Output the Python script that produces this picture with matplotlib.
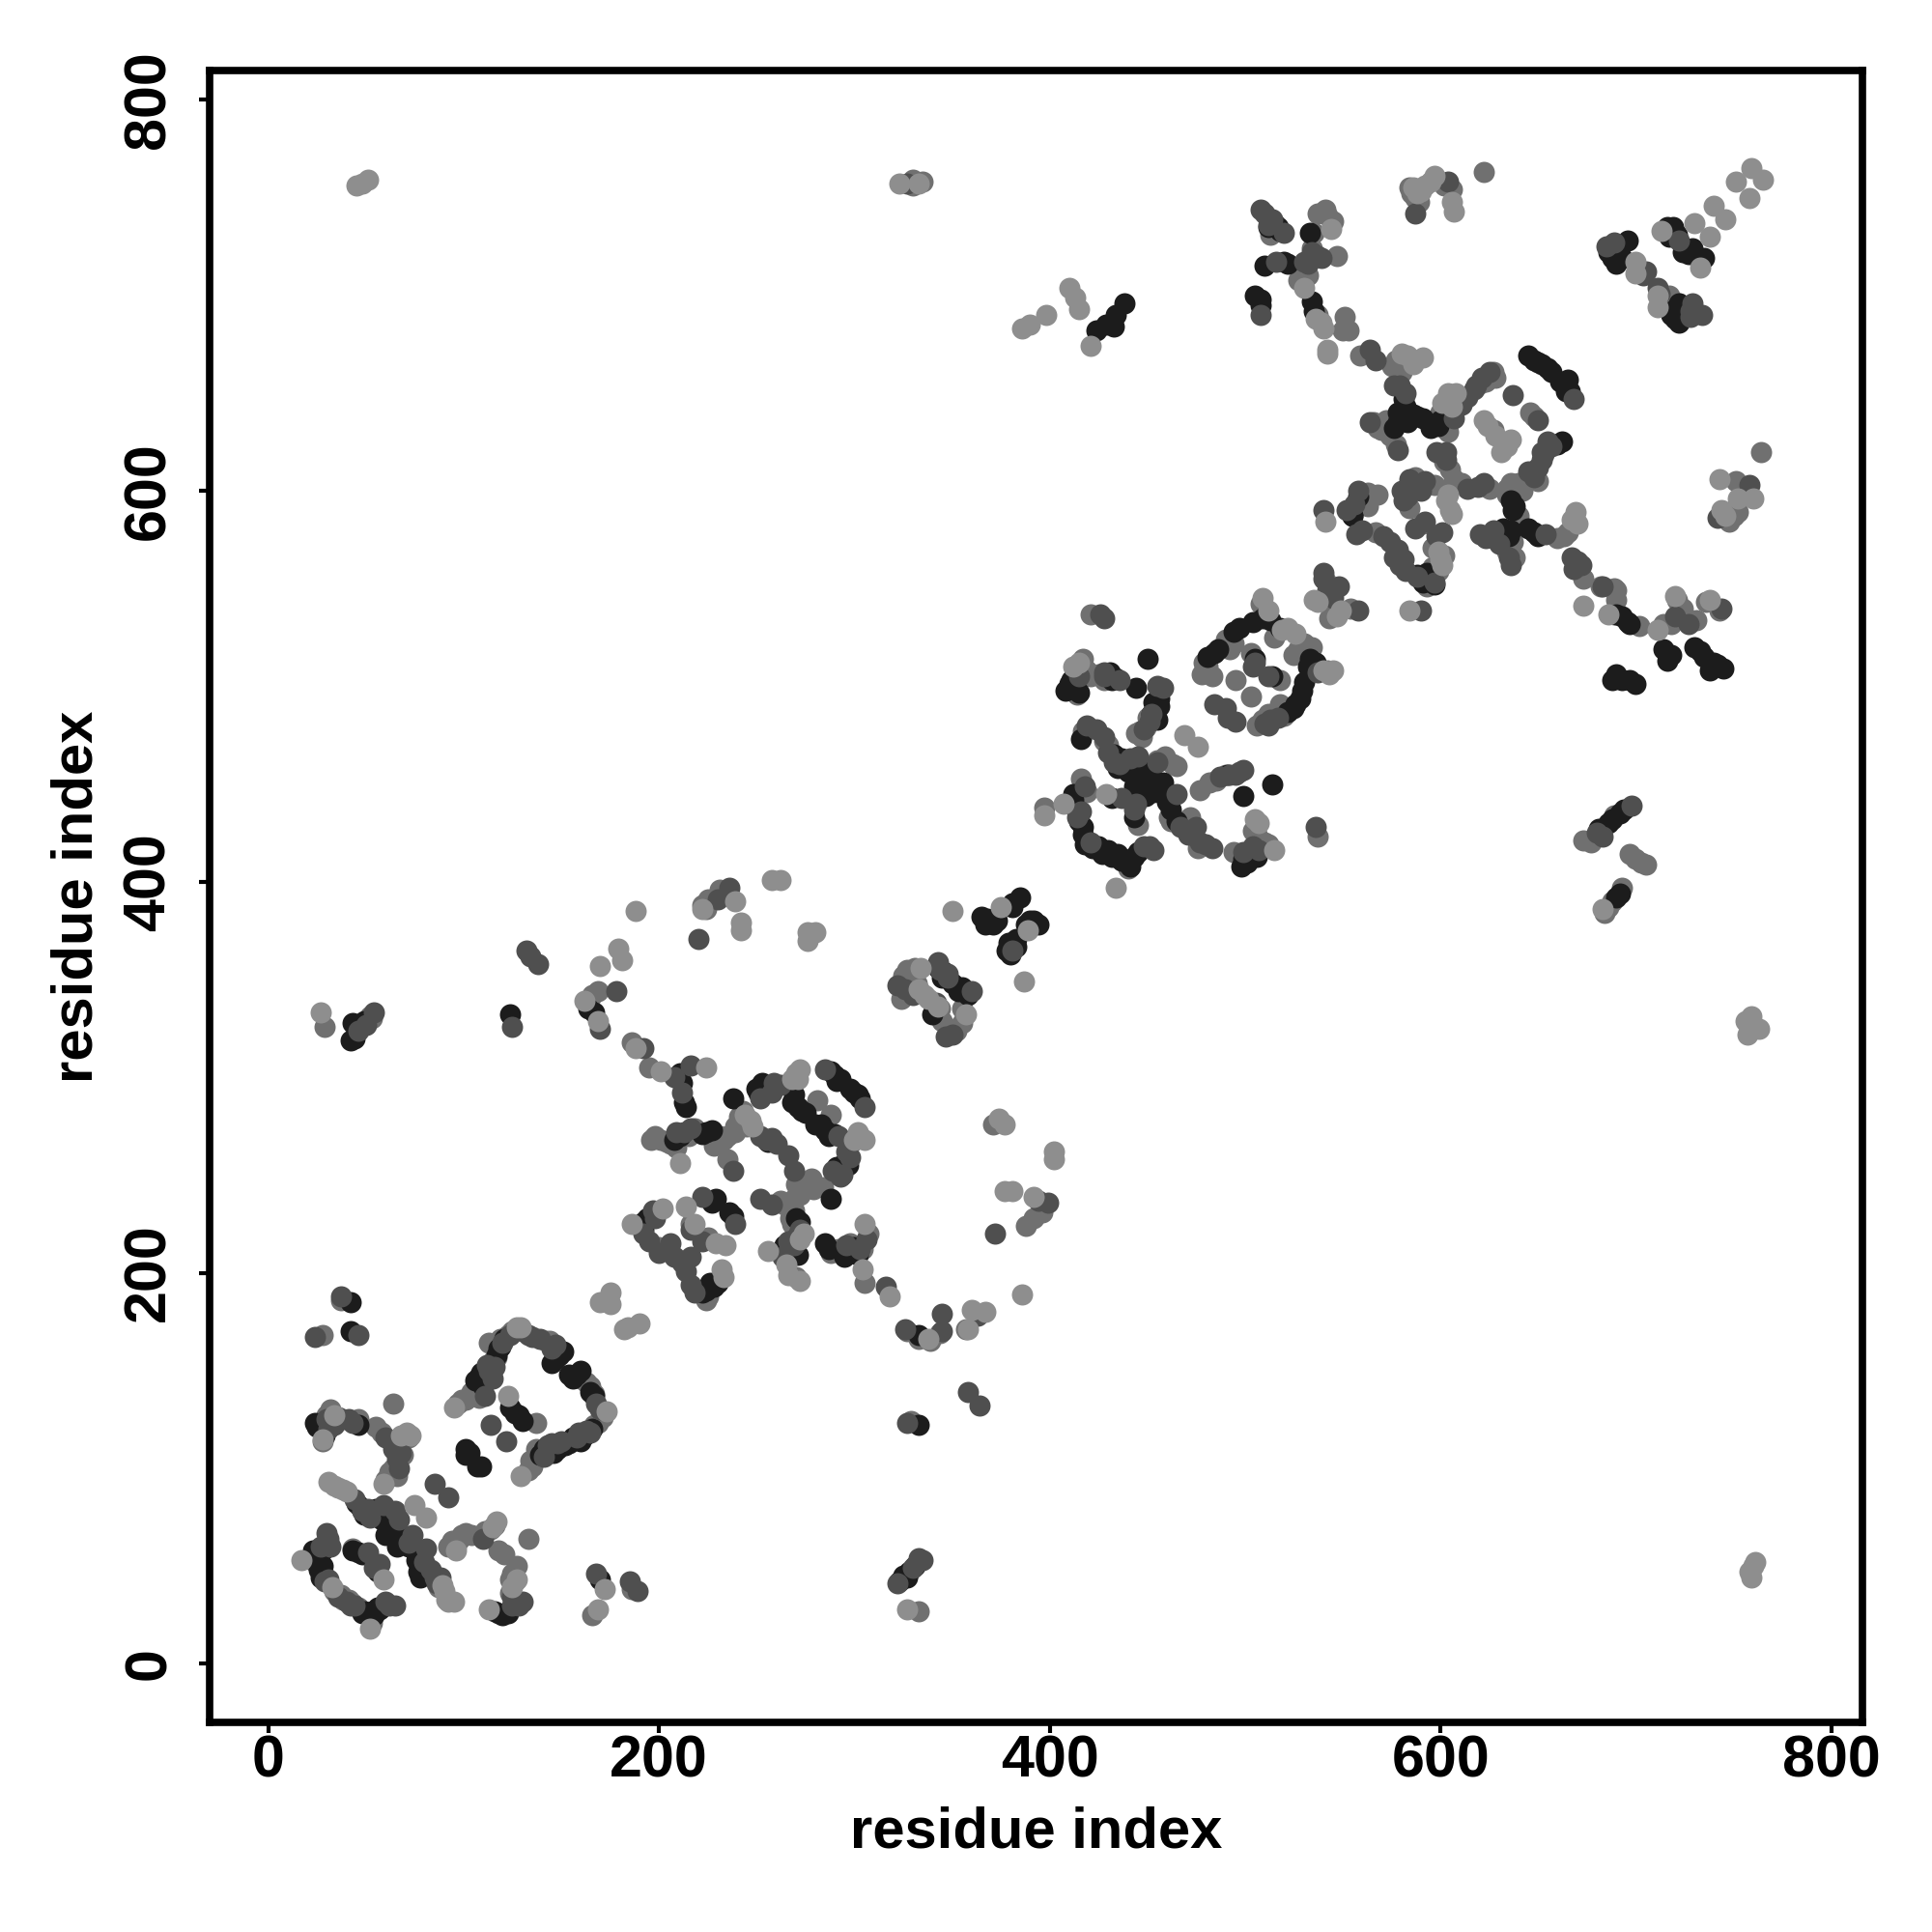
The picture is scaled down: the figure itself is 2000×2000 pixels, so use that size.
import numpy as np
import matplotlib
matplotlib.use("Agg")
import matplotlib.pyplot as plt

plt.rcParams['font.family'] = ['Liberation Sans', 'DejaVu Sans']

# contact points (residue i, residue j), split by grey level
dark_pts = [
    (108,147),(110,142),(118,161),(149,158),(145,154),(154,148),(158,148),(167,137),(162,117),(154,113),
    (146,108),(141,110),(124,131),(130,124),(101,110),(101,107),(107,101),(109,101),(25,121),(26,122),
    (28,118),(46,122),(47,80),(57,77),(61,73),(60,66),(66,60),(74,61),(77,47),(80,50),
    (25,55),(28,58),(27,44),(49,27),(54,25),(57,28),(46,57),(56,47),(121,26),(118,26),
    (42,170),(42,185),(170,43),(124,332),(42,319),(43,328),(333,122),(327,44),
    (167,333),(164,335),(211,302),(211,299),(214,285),(211,270),(224,272),(238,289),(256,267),(250,294),
    (254,295),(269,291),(271,285),(275,282),(283,276),(287,270),(290,301),(293,299),(300,292),(303,289),
    (297,255),(291,254),(288,238),(272,226),(266,211),(285,215),(298,211),(192,226),(190,224),(224,191),
    (228,193),(229,238),(238,229),(333,168),(340,332),(346,354),(355,346),(381,389),(381,387),(365,382),
    (371,378),(368,381),(390,380),(392,380),(379,369),(383,367),(410,501),(413,499),(432,503),(444,499),
    (450,514),(456,494),(454,489),(416,473),(433,465),(437,463),(447,459),(452,458),(446,452),(453,446),
    (458,451),(459,444),(462,437),(491,455),(499,444),(514,450),(504,415),(499,412),(501,410),(412,442),
    (417,428),(417,424),(432,443),(443,433),(425,418),(430,416),(435,414),(440,410),(443,413),(504,533),
    (513,534),(494,528),(484,517),(533,514),(530,502),(528,494),(525,489),(505,514),(514,505),
    (517,735),(520,717),(533,732),(534,697),(535,692),(581,647),(586,639),(591,637),(578,635),(599,633),
    (648,667),(652,665),(655,663),(664,654),(666,651),(662,625),(638,592),(636,580),(632,577),(648,579),
    (693,536),(697,532),(558,597),(555,587),(595,555),(590,555),(719,734),(717,730),(719,735),(727,721),
    (730,721),(735,719),(696,728),(688,719),(693,719),(720,693),(720,688),(508,695),(555,587),
    (686,430),(692,435),(692,394),(690,506),(697,503),(696,533),(718,516),(733,518),(740,512),(745,509),
    (433,684),(429,685),(424,682),(434,690),(438,696),
]

dark_fill = [
    (106,145),(109,149),(112,145),(117,158),(119,162),(121,166),(147,156),(151,160),(156,146),(160,150),
    (165,139),(166,120),(160,114),(156,116),(152,112),(148,110),(143,108),(139,107),(126,128),(128,127),
    (103,108),(24,123),(27,120),(29,117),(23,58),(26,52),(28,50),(26,48),(48,26),(51,25),
    (53,27),(56,29),(43,58),(48,56),(116,27),(120,25),(123,26),(45,82),(49,76),(55,79),
    (58,74),(63,70),(71,65),(72,60),(76,53),(78,44),(82,47),(44,320),(47,327),(49,329),
    (325,45),(323,42),(328,47),(331,50),
    (209,300),(212,297),(213,287),(208,268),(222,271),(227,273),(251,292),(253,297),(256,293),(268,287),
    (273,283),(280,276),(285,273),(290,271),(288,303),(291,298),(298,294),(302,291),(293,252),(295,256),
    (270,228),(268,212),(264,214),(271,209),(295,208),(300,213),(302,209),(287,212),(222,190),(226,195),
    (230,195),(192,222),(194,228),(227,236),(236,231),(343,356),(345,351),(350,348),(353,344),(358,342),
    (383,371),(379,366),(385,392),(367,378),(373,380),(388,378),(394,378),(378,365),(380,363),
    (408,498),(411,503),(415,497),(412,504),(434,504),(431,507),(453,492),(452,486),(456,490),(455,483),
    (435,458),(440,456),(445,456),(443,449),(450,455),(455,448),(449,444),(460,441),(465,431),(412,445),
    (410,440),(414,437),(415,431),(418,419),(422,417),(427,414),(432,413),(437,411),(441,408),(445,415),
    (498,408),(502,412),(506,413),(509,535),(518,530),(497,530),(486,519),(481,515),(532,510),(536,512),
    (529,498),(526,491),(522,487),(515,737),(518,733),(512,735),(510,715),(522,716),(578,640),(582,643),
    (588,638),(576,632),(595,632),(600,636),(583,635),(650,666),(645,669),(657,661),(661,656),(664,651),
    (665,657),(660,624),(636,595),(637,590),(632,581),(629,579),(635,577),(645,581),(650,577),(591,553),
    (593,558),(588,557),(597,552),(690,537),(721,731),(716,735),(724,722),(729,724),(733,717),(692,725),
    (686,722),(690,716),(718,690),(722,686),(722,696),(508,698),(505,700),(681,427),(688,432),(694,437),
    (690,392),(688,503),(693,503),(700,501),(714,519),(716,513),(730,520),(735,515),(738,508),(742,511),
]

dim_pts = [
    (111,137),(115,146),(112,153),(120,164),(133,168),(145,161),(168,133),(165,118),(158,116),(150,114),
    (145,113),(114,122),(122,114),(30,125),(41,125),(67,113),(64,110),(67,100),(44,84),(51,79),
    (59,81),(67,74),(74,66),(81,59),(85,44),(85,92),(92,85),(110,64),(31,64),(30,67),
    (31,43),(42,30),(60,32),(65,30),(51,57),(57,51),(125,30),(130,32),(168,46),(185,42),
    (189,37),(37,188),(24,167),(46,168),(132,365),(134,362),(138,358),(125,326),(46,324),(54,333),
    (327,123),(322,41),(333,54),(330,49),(358,139),(364,132),(327,757),
    (220,371),(236,397),(230,391),(178,344),(170,325),(192,315),(216,306),(212,292),(213,272),(238,252),
    (252,270),(260,266),(266,260),(269,252),(259,297),(252,289),(292,270),(285,304),(305,285),(298,259),
    (289,252),(294,250),(252,238),(258,235),(269,214),(303,212),(306,217),(316,193),(197,232),(195,216),
    (205,212),(212,205),(214,201),(216,194),(216,222),(222,239),(239,225),(222,216),(372,220),(394,237),
    (399,236),(345,179),(345,170),(326,171),(363,178),(322,347),(343,359),(348,353),(360,344),(347,321),
    (381,365),
    (426,537),(428,535),(415,505),(428,505),(458,499),(451,482),(419,480),(428,474),(433,461),(445,464),
    (465,445),(475,428),(471,424),(480,419),(487,454),(495,455),(499,457),(507,416),(536,428),(418,449),
    (414,433),(437,443),(443,437),(448,418),(453,416),(537,507),(517,484),(513,483),(510,481),(504,510),
    (512,505),(484,491),(491,484),(558,539),(590,539),(542,549),
    (587,742),(604,758),(510,742),(514,739),(520,732),(537,720),(532,716),(516,717),(564,672),(567,667),
    (579,654),(617,652),(625,661),(611,644),(668,647),(637,649),(650,636),(657,623),(653,619),(652,616),
    (645,610),(603,620),(619,602),(564,635),(578,621),(623,576),(636,562),(654,578),(667,566),(672,562),
    (720,536),(689,727),(704,710),(711,704),(729,696),(728,689),(722,728),(508,690),(540,590),
    (556,593),(560,580),(571,577),(578,570),(581,565),(582,559),(592,605),(580,600),(581,595),(601,579),
    (587,581),(540,558),(543,549),(758,603),(742,586),(683,551),(698,439),(744,540),(727,532),(680,425),
]

dim_fill = [
    (113,150),(116,152),(124,168),(130,170),(135,167),(139,166),(147,163),(170,130),(163,119),(159,118),
    (148,113),(143,112),(141,106),(31,120),(36,126),(34,122),(43,123),(48,78),(52,75),(65,78),
    (72,62),(80,52),(83,48),(86,41),(88,44),(128,30),(125,34),(27,60),(32,60),(29,42),
    (36,34),(40,32),(44,30),(62,30),(54,49),(60,116),(66,105),(68,108),(50,327),(335,53),
    (208,300),(209,272),(216,274),(255,268),(258,269),(258,292),(262,296),(296,262),(293,249),(270,218),
    (272,222),(296,214),(200,210),(208,208),(218,190),(192,220),(198,228),(216,208),(206,215),(263,208),
    (266,216),(344,355),(348,351),(342,338),(350,322),(326,345),(330,342),
    (428,507),(436,503),(455,500),(452,486),(448,478),(424,478),(430,466),(436,460),(441,463),(455,461),
    (473,425),(467,428),(477,420),(483,417),(492,455),(497,456),(504,418),(499,415),(421,420),(416,436),
    (444,440),(451,418),(490,489),(495,482),(512,480),(505,512),(512,736),(508,744),(539,719),(534,722),
    (530,717),(576,654),(582,650),(614,648),(608,642),(618,654),(621,658),(607,637),(652,620),(655,625),
    (650,612),(648,607),(598,620),(603,616),(614,601),(622,604),(635,566),(620,578),(627,580),(630,573),
    (670,564),(668,560),(685,725),(728,692),(734,690),(552,590),(558,600),(557,578),(574,574),(576,566),
    (579,562),(588,556),(597,553),(590,600),(584,606),(583,597),(598,577),(592,584),(705,712),(712,701),
    (540,555),(548,551),(545,545),(683,423),
]

mid_pts = [
    (97,133),(101,135),(104,139),(115,155),(113,164),(123,168),(142,165),(163,144),(165,142),(169,123),
    (137,110),(134,104),(133,99),(137,123),(28,114),(32,130),(46,125),(55,121),(58,118),(70,116),
    (69,107),(64,100),(63,96),(64,133),(48,78),(76,58),(92,60),(94,63),(98,64),(101,67),
    (114,69),(118,58),(121,56),(133,64),(125,46),(28,47),(31,62),(38,33),(46,29),(53,21),
    (43,59),(166,25),(186,38),(37,186),(28,168),(29,326),(52,331),(329,124),(333,27),(327,170),
    (333,166),(339,165),(344,169),(357,171),(330,759),(330,756),(335,758),
    (222,388),(225,391),(224,386),(231,396),(169,344),(166,342),(186,318),(195,305),(198,270),(201,268),
    (206,266),(218,274),(231,270),(235,270),(235,258),(239,275),(243,283),(281,288),(288,281),(299,267),
    (278,248),(284,244),(273,243),(269,238),(265,235),(269,232),(270,198),(292,212),(305,195),(200,213),
    (224,186),(216,225),(225,218),(371,276),(396,231),(392,228),(388,224),(325,352),(331,356),(329,343),
    (345,329),(352,324),(324,340),
    (421,537),(417,514),(419,508),(425,506),(432,505),(414,496),(446,477),(449,479),(417,477),(430,470),
    (459,464),(465,459),(461,433),(468,429),(476,417),(477,447),(482,451),(506,424),(512,419),(494,415),
    (537,423),(397,438),(416,453),(445,429),(440,407),(508,542),(517,528),(490,524),(492,519),(481,510),
    (530,522),(527,519),(542,508),(518,491),(509,483),(503,517),(518,503),(495,503),(503,495),(544,536),
    (554,540),
    (622,763),(587,750),(606,754),(541,744),(545,738),(535,732),(513,731),(547,720),(530,711),(537,690),
    (551,689),(553,682),(559,669),(578,663),(577,667),(627,661),(623,656),(605,640),(602,633),(627,631),
    (648,638),(650,605),(636,604),(634,598),(605,611),(611,604),(625,601),(566,635),(570,631),(577,624),
    (640,587),(627,576),(634,569),(663,577),(665,579),(673,555),(682,551),(689,550),(743,539),(731,534),
    (717,700),(541,554),(568,598),(563,599),(554,590),(567,579),(599,559),(593,551),(587,607),(597,603),
    (584,591),(591,583),(751,605),(751,591),(750,587),(764,620),(697,414),(705,409),(686,387),(690,549),
    (689,537),(702,531),(721,544),(736,543),(673,421),(693,397),(718,532),(543,535),
]

mid_fill = [
    (99,135),(103,137),(106,140),(108,136),(117,157),(119,166),(125,170),(144,165),(160,146),(167,138),
    (171,126),(167,122),(135,101),(137,105),(30,127),(35,126),(38,125),(66,111),(68,113),(72,116),
    (62,98),(66,102),(66,96),(60,94),(83,45),(87,39),(96,60),(99,66),(104,66),(111,68),
    (116,71),(124,43),(126,42),(127,50),(24,52),(34,37),(37,35),(41,33),(43,31),(29,61),
    (124,36),(53,330),
    (196,268),(204,267),(209,264),(215,270),(220,272),(226,270),(228,265),(233,268),(241,280),(239,272),
    (245,275),(267,228),(264,235),(268,225),(272,240),(275,245),(262,237),(270,245),(279,243),(304,212),
    (307,220),(298,215),(288,210),(225,188),(327,355),(328,351),(332,348),(344,335),(349,325),(355,328),
    (355,335),(413,510),(416,505),(421,505),(428,503),(447,474),(444,476),(450,484),(428,472),(455,462),
    (463,460),(462,431),(472,433),(485,452),(490,455),(504,426),(510,420),(488,520),(494,522),(483,505),
    (478,506),(479,512),(534,520),(525,516),(515,525),(520,485),(506,480),(512,486),(419,446),
    (585,752),(589,748),(584,755),(602,756),(537,742),(542,741),(532,710),(527,708),(531,714),(534,724),
    (550,682),(580,661),(575,664),(580,668),(620,655),(628,658),(600,640),(604,630),(646,640),(634,601),
    (640,604),(642,600),(602,615),(607,606),(568,632),(572,636),(574,628),(638,566),(637,574),(660,576),
    (668,583),(690,544),(722,696),(560,596),(563,592),(596,561),(602,567),(596,571),(752,589),(748,584),
    (677,420),(689,434),(703,410),(700,412),(684,384),(688,390),(714,532),(724,540),
]

pale_pts = [
    (95,131),(127,172),(129,172),(173,129),(129,96),(123,137),(28,115),(34,127),(73,117),(59,92),
    (31,93),(36,90),(40,88),(75,81),(81,75),(89,40),(92,32),(95,32),(117,73),(113,28),
    (125,39),(17,53),(33,39),(52,18),(59,43),(172,38),(169,28),(170,185),(175,190),(175,184),
    (184,172),(190,174),(182,171),(27,333),(760,327),(759,331),(760,50),(758,47),(48,757),(51,759),
    (45,756),(333,757),(327,28),
    (188,385),(222,386),(239,390),(242,379),(242,375),(258,401),(262,401),(276,374),(280,374),(276,370),
    (179,366),(181,360),(170,357),(162,339),(169,329),(188,315),(201,303),(224,305),(211,256),(247,278),
    (270,302),(272,304),(303,270),(274,220),(256,211),(265,204),(305,225),(304,202),(318,188),(186,225),
    (202,233),(232,202),(233,198),(214,234),(218,225),(229,215),(234,214),(374,279),(377,276),(402,262),
    (402,258),(377,242),(381,242),(392,239),(386,189),(360,181),(367,180),(358,171),(338,166),(350,385),
    (387,349),(375,387),(389,375),(334,356),(336,342),(343,336),(357,332),
    (397,434),(407,440),(469,475),(476,469),(505,432),(515,416),(429,445),(434,397),(522,530),(545,508),
    (535,544),(547,536),(549,539),(584,539),
    (592,756),(597,761),(606,748),(607,743),(759,765),(765,759),(751,758),(758,750),(740,746),(746,739),
    (730,737),(738,730),(713,733),(733,714),(700,717),(700,711),(711,700),(544,734),(530,704),(539,686),
    (542,672),(583,669),(591,668),(604,650),(608,650),(624,633),(634,623),(669,589),(670,583),(673,541),
    (686,537),(720,546),(738,544),(541,584),(600,565),(603,595),(606,588),(743,606),(760,596),(746,587),
    (683,386),(711,529),(386,683),(398,690),(410,704),(415,693),(421,674),(390,685),(413,699),(537,543),
]

pale_fill = [
    (34,91),(38,89),(68,117),(71,118),(90,37),(91,33),(96,58),(115,70),(127,43),(244,281),
    (248,275),(271,299),(268,299),(300,268),(305,268),(302,272),(272,217),(266,199),(272,196),(333,345),
    (338,340),(415,512),(412,510),(512,539),(509,545),(519,529),(526,527),(543,506),(540,508),(507,430),
    (586,755),(590,753),(588,752),(595,758),(542,670),(580,670),(586,665),(622,636),(628,628),(631,620),
    (636,626),(601,645),(606,643),(667,585),(536,688),(540,683),(599,569),(601,562),(605,590),(604,598),
    (752,596),(744,590),(711,694),(759,44),(761,52),(757,322),(763,325),(756,329),(323,757),
]

tick_values = [0, 200, 400, 600, 800]

fig = plt.figure(figsize=(20, 20), dpi=100)
ax = fig.add_axes([217 / 2000, 1 - 1783 / 2000, (1928 - 217) / 2000, (1783 - 73) / 2000])

# order matters, the lighter dots sit over the dark ones in the original
layers = [
    (mid_pts + mid_fill, '#707070'),
    (dark_pts + dark_fill, '#1c1c1c'),
    (dim_pts + dim_fill, '#4f4f4f'),
    (pale_pts + pale_fill, '#8e8e8e'),
]
for pts, col in layers:
    xy = np.array(pts)
    ax.scatter(xy[:, 0], xy[:, 1], s=250, c=col, linewidths=0)

ax.set_xlim(-30, 816)
ax.set_ylim(-30, 815)
ax.set_xticks(tick_values)
ax.set_yticks(tick_values)
ax.tick_params(axis='x', length=8, width=3, labelsize=44, pad=1)
ax.tick_params(axis='y', length=8, width=3, labelsize=44, pad=16)
for lab in ax.get_xticklabels() + ax.get_yticklabels():
    lab.set_fontweight('bold')
for lab in ax.get_yticklabels():
    lab.set_rotation(90)
    lab.set_verticalalignment('center')
for s in ax.spines.values():
    s.set_linewidth(5.5)

ax.set_xlabel('residue index', fontsize=43, fontweight='bold', labelpad=12)
ax.set_ylabel('residue index', fontsize=43, fontweight='bold', labelpad=14)

fig.savefig('out.png', dpi=100, facecolor='white')
